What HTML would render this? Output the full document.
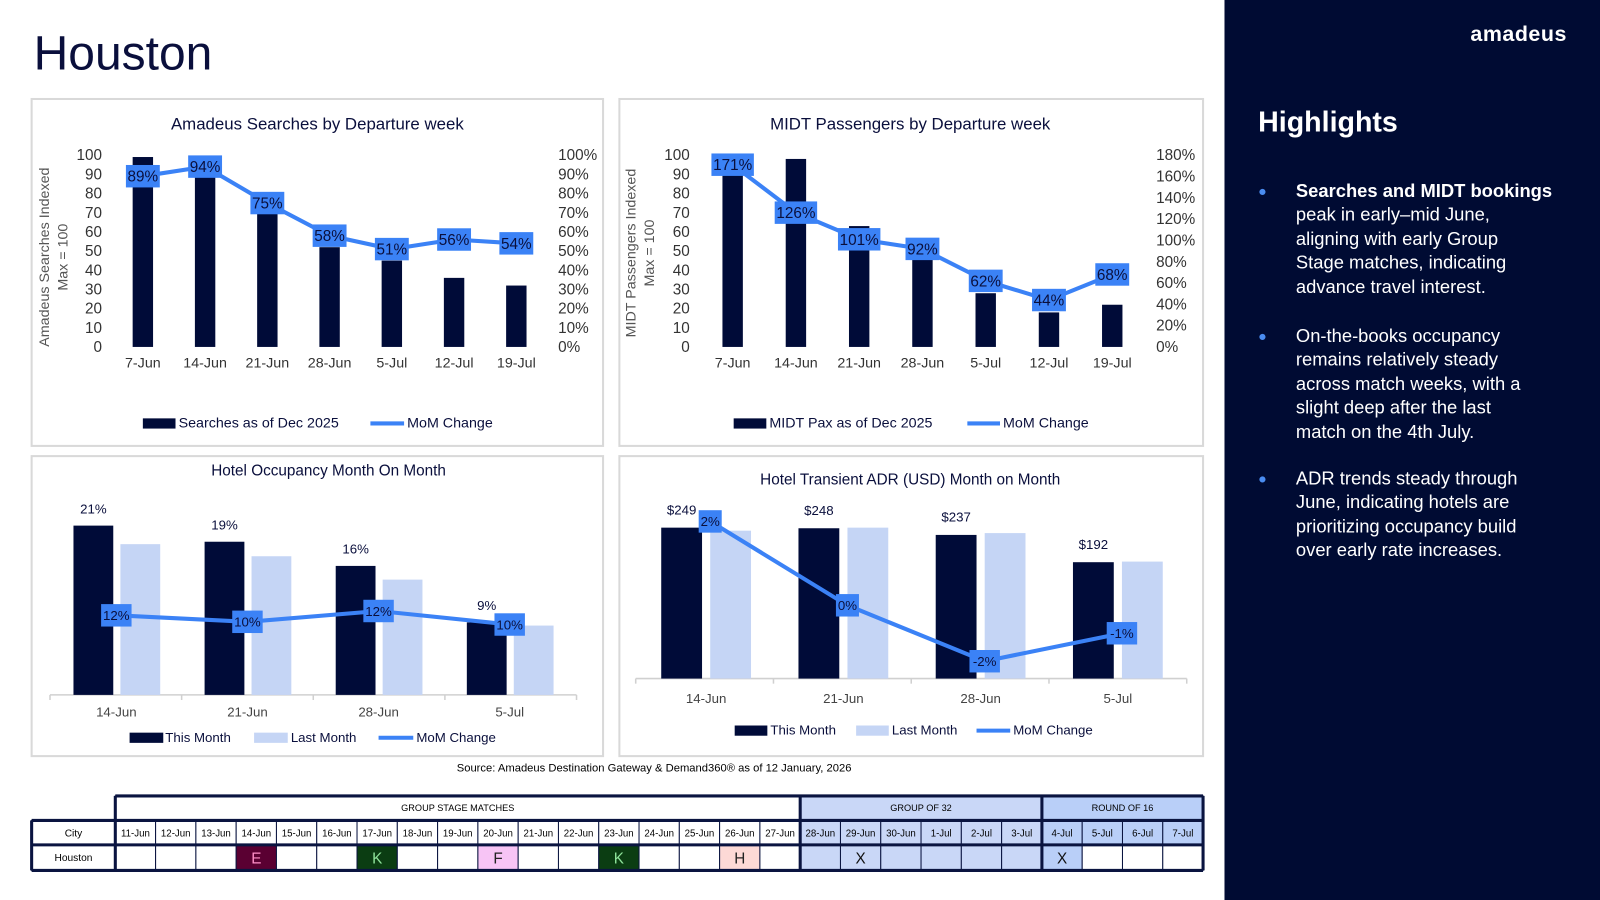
<!DOCTYPE html>
<html><head><meta charset="utf-8">
<style>
html,body{margin:0;padding:0;width:1600px;height:900px;overflow:hidden;background:#fff;}
#wrap{position:absolute;left:0;top:0;width:1568px;height:882px;transform:scale(1.020408);transform-origin:0 0;font-family:"Liberation Sans",sans-serif;}
#side{position:absolute;left:1200px;top:0;width:368px;height:882px;background:#000b33;color:#fff;}
#logo{position:absolute;left:241px;top:22px;font-size:21px;font-weight:bold;letter-spacing:0.5px;}
#hl{position:absolute;left:33px;top:104px;font-size:28px;font-weight:bold;}
.bul{position:absolute;left:70px;font-size:18px;line-height:23.4px;width:290px;}
.dot{position:absolute;left:-37px;top:0;color:#4a8cf0;font-size:14px;}
#title{position:absolute;left:33px;top:24px;font-size:47px;color:#0a0f3c;}
svg text{font-family:"Liberation Sans",sans-serif;}
</style></head>
<body>
<div id="wrap">
<div id="title">Houston</div>
<div id="side">
  <div id="logo">amadeus</div>
  <div id="hl">Highlights</div>
  <div class="bul" style="top:176px"><span class="dot">●</span><b>Searches and MIDT bookings</b><br>peak in early–mid June,<br>aligning with early Group<br>Stage matches, indicating<br>advance travel interest.</div>
  <div class="bul" style="top:318px"><span class="dot">●</span>On-the-books occupancy<br>remains relatively steady<br>across match weeks, with a<br>slight deep after the last<br>match on the 4th July.</div>
  <div class="bul" style="top:458px"><span class="dot">●</span>ADR trends steady through<br>June, indicating hotels are<br>prioritizing occupancy build<br>over early rate increases.</div>
</div>
<svg id="sv" width="1200" height="882" style="position:absolute;left:0;top:0">
  <rect x="31" y="97" width="560" height="340" fill="none" stroke="#d9d9d9" stroke-width="2"/>
  <rect x="607" y="97" width="572" height="340" fill="none" stroke="#d9d9d9" stroke-width="2"/>
  <rect x="31" y="447" width="560" height="294" fill="none" stroke="#d9d9d9" stroke-width="2"/>
  <rect x="607" y="447" width="572" height="294" fill="none" stroke="#d9d9d9" stroke-width="2"/>
  <text x="311" y="127" text-anchor="middle" font-size="16.5" fill="#0a0f3c">Amadeus Searches by Departure week</text>
  <text x="892" y="127" text-anchor="middle" font-size="16.5" fill="#0a0f3c">MIDT Passengers by Departure week</text>
  <text x="322" y="466" text-anchor="middle" font-size="15" fill="#0a0f3c">Hotel Occupancy Month On Month</text>
  <text x="892" y="475" text-anchor="middle" font-size="15" fill="#0a0f3c">Hotel Transient ADR (USD) Month on Month</text>
  <text transform="translate(48,252) rotate(-90)" text-anchor="middle" font-size="14" fill="#555">Amadeus Searches Indexed</text>
  <text transform="translate(66,252) rotate(-90)" text-anchor="middle" font-size="14" fill="#555">Max = 100</text>
  <text transform="translate(623,248) rotate(-90)" text-anchor="middle" font-size="14" fill="#555">MIDT Passengers Indexed</text>
  <text transform="translate(641,248) rotate(-90)" text-anchor="middle" font-size="14" fill="#555">Max = 100</text>
  <g font-size="14" fill="#0a0f3c">
  <rect x="140" y="410" width="32" height="10" fill="#000b38"/>
  <text x="175" y="419">Searches as of Dec 2025</text>
  <line x1="363" y1="415" x2="396" y2="415" stroke="#3b82f6" stroke-width="4"/>
  <text x="399" y="419">MoM Change</text>
  <rect x="719" y="410" width="32" height="10" fill="#000b38"/>
  <text x="754" y="419">MIDT Pax as of Dec 2025</text>
  <line x1="948" y1="415" x2="980" y2="415" stroke="#3b82f6" stroke-width="4"/>
  <text x="983" y="419">MoM Change</text>
  <rect x="127" y="718" width="33" height="10" fill="#000b38"/>
  <text x="162" y="727" font-size="13">This Month</text>
  <rect x="249" y="718" width="33" height="10" fill="#c5d5f5"/>
  <text x="285" y="727" font-size="13">Last Month</text>
  <line x1="371" y1="723" x2="405" y2="723" stroke="#3b82f6" stroke-width="4"/>
  <text x="408" y="727" font-size="13">MoM Change</text>
  <rect x="720" y="711" width="32" height="10" fill="#000b38"/>
  <text x="755" y="720" font-size="13">This Month</text>
  <rect x="839" y="711" width="32" height="10" fill="#c5d5f5"/>
  <text x="874" y="720" font-size="13">Last Month</text>
  <line x1="957" y1="716" x2="990" y2="716" stroke="#3b82f6" stroke-width="4"/>
  <text x="993" y="720" font-size="13">MoM Change</text>
  </g>
  <text x="641" y="756" text-anchor="middle" font-size="11" fill="#000">Source: Amadeus Destination Gateway &amp; Demand360® as of 12 January, 2026</text>
</svg>
</div>
<script>
// ---- data ----
const c1Cats = ['7-Jun','14-Jun','21-Jun','28-Jun','5-Jul','12-Jul','19-Jul'];
const c1Searches = [99,93,72,52,45,36,32];
const c1Mom = [89,94,75,58,51,56,54];
const c1LeftTicks = [0,10,20,30,40,50,60,70,80,90,100];
const c1RightTicks = [0,10,20,30,40,50,60,70,80,90,100];

const c2Cats = ['7-Jun','14-Jun','21-Jun','28-Jun','5-Jul','12-Jul','19-Jul'];
const c2Pax = [90,98,63,47,28,18,22];
const c2Mom = [171,126,101,92,62,44,68];
const c2LeftTicks = [0,10,20,30,40,50,60,70,80,90,100];
const c2RightTicks = [0,20,40,60,80,100,120,140,160,180];

const c3Cats = ['14-Jun','21-Jun','28-Jun','5-Jul'];
const c3This = [21,19,16,9];
const c3Last = [18.7,17.2,14.3,8.6];
const c3Mom = [11.6,10.4,12.4,9.9];
const c3MomLabels = ['12%','10%','12%','10%'];

const c4Cats = ['14-Jun','21-Jun','28-Jun','5-Jul'];
const c4This = [249,248,237,192];
const c4Last = [244,249,240,193];
const c4Mom = [2.0,-0.4,-2.0,-1.2];
const c4MomLabels = ['2%','0%','-2%','-1%'];

const tDates = ['11-Jun','12-Jun','13-Jun','14-Jun','15-Jun','16-Jun','17-Jun','18-Jun','19-Jun','20-Jun','21-Jun','22-Jun','23-Jun','24-Jun','25-Jun','26-Jun','27-Jun','28-Jun','29-Jun','30-Jun','1-Jul','2-Jul','3-Jul','4-Jul','5-Jul','6-Jul','7-Jul'];
const tMatches = ['','','','E','','','K','','','F','','','K','','','H','','','X','','','','','X','','',''];

const NS='http://www.w3.org/2000/svg';
const sv=document.getElementById('sv');
const NAVY='#000b38', LIGHT='#c5d5f5', BLUE='#3b82f6', TXT='#0a0f3c';
function mk(tag,a){const e=document.createElementNS(NS,tag);for(const k in a)e.setAttribute(k,a[k]);sv.appendChild(e);return e;}
function txt(x,y,s,fs,anchor,fill){const t=mk('text',{x:x,y:y,'font-size':fs,'text-anchor':anchor,fill:fill});t.textContent=s;return t;}
function lblBox(x,y,s,fs){
  const w=s.length*fs*0.56+8;
  const r=mk('rect',{x:x-w/2,y:y-11,width:w,height:22,fill:BLUE});
  
  
  const t=txt(x,y+fs*0.36,s,fs,'middle',TXT);
  
  
}

// ---- chart 1 ----
const x1=i=>140+61*i, y1L=v=>340-v*1.88, y1R=p=>340-p*1.88;
c1LeftTicks.forEach(v=>{const t=txt(100,y1L(v)+5,String(v),15,'end','#333');
  
  });
c1RightTicks.forEach(v=>{const t=txt(547,y1R(v)+5,v+'%',15,'start','#333');
  
  });
c1Cats.forEach((c,i)=>{const t=txt(x1(i),360,c,14,'middle','#333');
  
  });
c1Searches.forEach((v,i)=>{const r=mk('rect',{x:x1(i)-10,y:y1L(v),width:20,height:340-y1L(v),fill:NAVY});
  
  });
{const l=mk('polyline',{points:c1Mom.map((p,i)=>x1(i)+','+y1R(p)).join(' '),fill:'none',stroke:BLUE,'stroke-width':4,'stroke-linejoin':'round'});
 
 }
c1Mom.forEach((p,i)=>lblBox(x1(i),y1R(p),p+'%',15));

// ---- chart 2 ----
const x2=i=>718+62*i, y2L=v=>340-v*1.88, y2R=p=>340-p/180*188;
c2LeftTicks.forEach(v=>{const t=txt(676,y2L(v)+5,String(v),15,'end','#333');
  
  });
c2RightTicks.forEach(v=>{const t=txt(1133,y2R(v)+5,v+'%',15,'start','#333');
  
  });
c2Cats.forEach((c,i)=>{const t=txt(x2(i),360,c,14,'middle','#333');
  
  });
c2Pax.forEach((v,i)=>{const r=mk('rect',{x:x2(i)-10,y:y2L(v),width:20,height:340-y2L(v),fill:NAVY});
  
  });
{const l=mk('polyline',{points:c2Mom.map((p,i)=>x2(i)+','+y2R(p)).join(' '),fill:'none',stroke:BLUE,'stroke-width':4,'stroke-linejoin':'round'});
 
 }
c2Mom.forEach((p,i)=>lblBox(x2(i),y2R(p),p+'%',15));

// ---- chart 3 ----
const x3=i=>114+128.5*i, y3=v=>681-v*7.9, y3R=v=>664.5-v*5.3;
{const a=mk('line',{x1:49,y1:681,x2:565,y2:681,stroke:'#d0d0d0','stroke-width':1.5});
 
 }
[0,1,2,3,4].forEach(k=>{const t=mk('line',{x1:49+129*k,y1:681,x2:49+129*k,y2:686,stroke:'#d0d0d0','stroke-width':1.5});
  
  });
c3Cats.forEach((c,i)=>{const t=txt(x3(i),702,c,13,'middle','#444');
  
  });
c3This.forEach((v,i)=>{const r=mk('rect',{x:x3(i)-42,y:y3(v),width:39,height:681-y3(v),fill:NAVY});
  
  
  const t=txt(x3(i)-22.5,y3(v)-12,v+'%',13,'middle',TXT);
  
  });
c3Last.forEach((v,i)=>{const r=mk('rect',{x:x3(i)+4,y:y3(v),width:39,height:681-y3(v),fill:LIGHT});
  
  });
{const l=mk('polyline',{points:c3Mom.map((p,i)=>x3(i)+','+y3R(p)).join(' '),fill:'none',stroke:BLUE,'stroke-width':4,'stroke-linejoin':'round'});
 
 }
c3Mom.forEach((p,i)=>lblBox(x3(i),y3R(p),c3MomLabels[i],13));

// ---- chart 4 ----
const x4=i=>692+134.5*i, y4=v=>665-v*0.594, y4R=v=>579.5-v*34.25;
{const a=mk('line',{x1:623,y1:665,x2:1163,y2:665,stroke:'#d0d0d0','stroke-width':1.5});
 
 }
[0,1,2,3,4].forEach(k=>{const t=mk('line',{x1:623+135*k,y1:665,x2:623+135*k,y2:670,stroke:'#d0d0d0','stroke-width':1.5});
  
  });
c4Cats.forEach((c,i)=>{const t=txt(x4(i),689,c,13,'middle','#444');
  
  });
c4This.forEach((v,i)=>{const r=mk('rect',{x:x4(i)-44,y:y4(v),width:40,height:665-y4(v),fill:NAVY});
  
  
  const t=txt(x4(i)-24,y4(v)-13,'$'+v,13,'middle',TXT);
  
  });
c4Last.forEach((v,i)=>{const r=mk('rect',{x:x4(i)+4,y:y4(v),width:40,height:665-y4(v),fill:LIGHT});
  
  });
{const l=mk('polyline',{points:c4Mom.map((p,i)=>(x4(i)+4)+','+y4R(p)).join(' '),fill:'none',stroke:BLUE,'stroke-width':4,'stroke-linejoin':'round'});
 
 }
c4Mom.forEach((p,i)=>lblBox(x4(i)+4,y4R(p),c4MomLabels[i],13));

// ---- schedule table ----
const TX=113, CW=(1179-113)/27, R1=780, R2=804, R3=828, RB=853;
const TF='"Liberation Sans Narrow","Liberation Sans",sans-serif';
function colBg(i){return i>=23?'#b9cff8':(i>=17?'#c9d7f7':'#fff');}
function rowBg(i){return i>=24?'#fff':colBg(i);}
const heads=[['GROUP STAGE MATCHES',0,17,'#fff'],['GROUP OF 32',17,23,'#c9d7f7'],['ROUND OF 16',23,27,'#b9cff8']];
heads.forEach(h=>{const r=mk('rect',{x:TX+h[1]*CW,y:R1,width:(h[2]-h[1])*CW,height:R2-R1,fill:h[3],stroke:'#0a1440','stroke-width':1});
  
  
  const t=txt(TX+(h[1]+h[2])/2*CW,R1+15,h[0],9,'middle','#000');t.setAttribute('font-family',TF);
  
  });
{const r=mk('rect',{x:31,y:R2,width:82,height:R3-R2,fill:'#fff',stroke:'#0a1440','stroke-width':1});
 
 
 const t=txt(72,R2+16,'City',10,'middle','#000');t.setAttribute('font-family',TF);
 
 
 const r2=mk('rect',{x:31,y:R3,width:82,height:RB-R3,fill:'#fff',stroke:'#0a1440','stroke-width':1});
 
 
 const t2=txt(72,R3+16,'Houston',10,'middle','#000');t2.setAttribute('font-family',TF);
 
 }
const mColors={E:['#5a0032','#ff8fc8'],K:['#0b3d12','#8fe39a'],F:['#f7c4f5','#222'],H:['#fdd9d6','#222'],X:[null,'#111']};
tDates.forEach((d,i)=>{
  const x=TX+i*CW;
  const r=mk('rect',{x:x,y:R2,width:CW,height:R3-R2,fill:colBg(i),stroke:'#0a1440','stroke-width':1});
  
  
  const t=txt(x+CW/2,R2+16,d,9.5,'middle','#000');t.setAttribute('font-family',TF);
  
  
  const m=tMatches[i];const mc=mColors[m];
  const bg=(mc&&mc[0])?mc[0]:rowBg(i);
  const c=mk('rect',{x:x,y:R3,width:CW,height:RB-R3,fill:bg,stroke:'#0a1440','stroke-width':1});
  
  
  if(m){const mt=txt(x+CW/2,R3+18,m,15,'middle',mc[1]);mt.setAttribute('font-family',TF);
    
    }
});
[[113,R1,1179,R1],[113,R2,1179,R2],[31,R2,113,R2],[31,R3,1179,R3],[31,RB,1179,RB],[113,R1,113,RB],[1179,R1,1179,RB],[31,R2,31,RB],[TX+17*CW,R1,TX+17*CW,RB],[TX+23*CW,R1,TX+23*CW,RB]].forEach(s=>{
  const l=mk('line',{x1:s[0],y1:s[1],x2:s[2],y2:s[3],stroke:'#0a1440','stroke-width':3});
  
  });
</script>
</body></html>
